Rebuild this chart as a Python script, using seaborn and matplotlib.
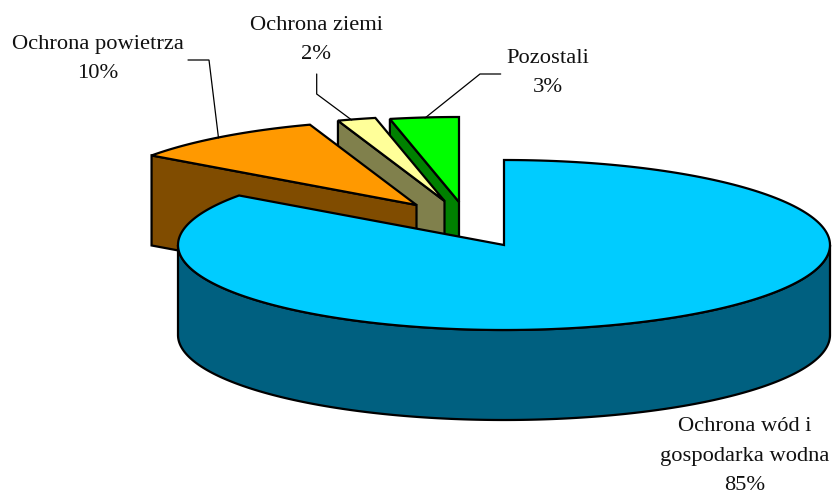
import numpy as np
import matplotlib
matplotlib.use("Agg")
import matplotlib.pyplot as plt
from matplotlib.patches import Polygon
import seaborn as sns

# Data
categories = ["Ochrona wód i\ngospodarka wodna", "Ochrona powietrza", "Ochrona ziemi", "Pozostali"]
values = [84.9, 9.8, 1.9, 3.4]
labels_pct = ["85%", "10%", "2%", "3%"]

# Styles
top_colors = sns.color_palette(["#00CCFF", "#FF9900", "#FFFF99", "#00FF00"])
side_colors = sns.color_palette(["#006080", "#804C00", "#80804C", "#008000"])

# Layout (pixels of the 832x496 canvas)
W, H = 832, 496
CX, CY, RX, RY, DEPTH = 504, 245, 326, 85, 90
explode_dx = [0, -87.5, -59.5, -45]
explode_dy = [0, -40, -44, -43]
label_xy = [(745, 456), (98, 59), (316, 40), (548, 73)]
leaders = [None,
           [(188, 60), (209, 60), (218.5, 138)],
           [(316.7, 74), (316.7, 94), (351.7, 120)],
           [(500.7, 74), (480, 74), (425, 118)]]

sns.set_theme(style="white")
plt.rcParams["font.family"] = ["Liberation Serif", "DejaVu Serif"]

fig = plt.figure(figsize=(W / 100, H / 100), dpi=100)
ax = fig.add_axes([0, 0, 1, 1])
ax.set_xlim(0, W)
ax.set_ylim(H, 0)
ax.axis("off")


def rim(cx, cy, a0, a1, n=240):
    """Points of the elliptical rim; angles in degrees, clockwise from 12 o'clock."""
    t = np.radians(np.linspace(a0, a1, n))
    return np.column_stack([cx + RX * np.sin(t), cy - RY * np.cos(t)])


edges = np.concatenate([[0], np.cumsum(values)]) / np.sum(values) * 360
LW = 1.6

# Painter's order: rear slices first, the big slice last
for i in [3, 2, 1, 0]:
    a0, a1 = edges[i], edges[i + 1]
    cx, cy = CX + explode_dx[i], CY + explode_dy[i]
    centre = np.array([cx, cy])
    down = np.array([0, DEPTH])
    kw = dict(edgecolor="black", linewidth=LW, joinstyle="miter")

    # Outer wall, only where the rim faces the viewer (90..270 degrees)
    lo, hi = max(a0, 90), min(a1, 270)
    if hi > lo:
        r = rim(cx, cy, lo, hi)
        ax.add_patch(Polygon(np.vstack([r, (r + down)[::-1]]), closed=True,
                             facecolor=side_colors[i], zorder=10 - i, **kw))
    # Visible radial wall at the slice's start angle (left-hand slices)
    if a0 > 180:
        p = rim(cx, cy, a0, a0, 1)[0]
        ax.add_patch(Polygon([p, centre, centre + down, p + down], closed=True,
                             facecolor=side_colors[i], zorder=10 - i, **kw))
    # Top face
    ax.add_patch(Polygon(np.vstack([centre, rim(cx, cy, a0, a1)]), closed=True,
                         facecolor=top_colors[i], zorder=10 - i, **kw))

# Leader lines and labels
for i, name in enumerate(categories):
    if leaders[i]:
        xs, ys = zip(*leaders[i])
        ax.plot(xs, ys, color="black", lw=0.9, zorder=20, solid_joinstyle="miter")
    ax.text(*label_xy[i], f"{name}\n{labels_pct[i]}", ha="center", va="center",
            fontsize=16.2, color="#111111", linespacing=1.72, zorder=21)

fig.savefig("out.png", dpi=100, facecolor="white")
